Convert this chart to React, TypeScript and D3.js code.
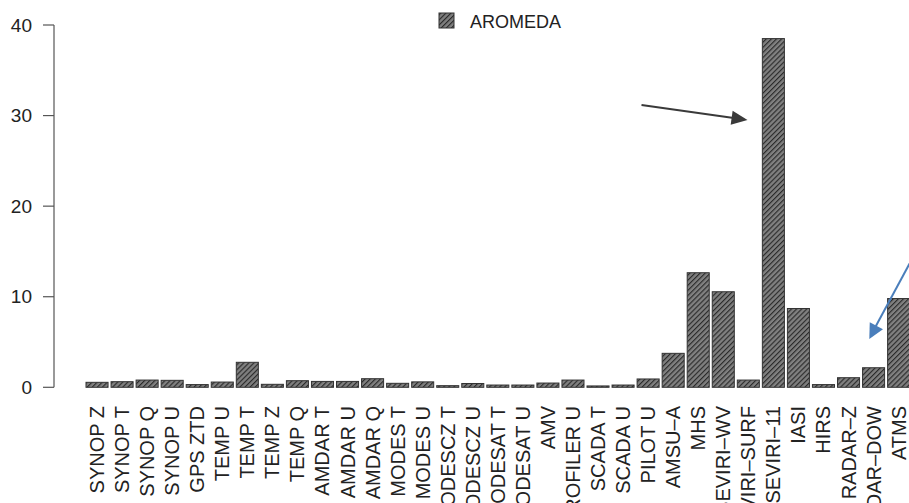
import React from "react";
import * as d3 from "d3";

const categories = [
  "SYNOP Z", "SYNOP T", "SYNOP Q", "SYNOP U", "GPS ZTD", "TEMP U", "TEMP T", "TEMP Z",
  "TEMP Q", "AMDAR T", "AMDAR U", "AMDAR Q", "MODES T", "MODES U", "MODESCZ T", "MODESCZ U",
  "MODESAT T", "MODESAT U", "AMV", "PROFILER U", "SCADA T", "SCADA U", "PILOT U", "AMSU–A",
  "MHS", "SEVIRI–WV", "SEVIRI–SURF", "SEVIRI–11", "IASI", "HIRS", "RADAR–Z", "RADAR–DOW", "ATMS",
];
const aromeda = [
  0.55, 0.62, 0.8, 0.77, 0.3, 0.58, 2.76, 0.33,
  0.73, 0.65, 0.65, 0.95, 0.44, 0.6, 0.18, 0.42,
  0.25, 0.25, 0.47, 0.8, 0.15, 0.25, 0.92, 3.75,
  12.65, 10.55, 0.8, 38.5, 8.7, 0.3, 1.06, 2.16, 9.8,
];
const yTicks = [0, 10, 20, 30, 40];
const seriesName = "AROMEDA";

const FONT = "'Liberation Sans', Arial, sans-serif";

export default function App() {
  const W = 909, H = 503;
  const x = d3.scaleBand<string>().domain(categories).range([84.5, 911.15]).paddingInner(0.12).paddingOuter(0.06);
  const y = d3.scaleLinear().domain([0, 40]).range([387.3, 25]);

  const arrowHead = (x1: number, y1: number, x2: number, y2: number, len: number, hw: number) => {
    const dx = x2 - x1, dy = y2 - y1;
    const L = Math.hypot(dx, dy);
    const ux = dx / L, uy = dy / L;
    const bx = x2 - ux * len, by = y2 - uy * len;
    const px = -uy, py = ux;
    return `M${x2},${y2}L${bx + px * hw},${by + py * hw}L${bx - px * hw},${by - py * hw}Z`;
  };

  const blk = { x1: 641.5, y1: 105, x2: 747.5, y2: 120 };
  const blu = { x1: 912, y1: 259, x2: 869.3, y2: 339 };

  return (
    <svg width={W} height={H} style={{ position: "absolute", left: 0, top: 0, background: "#fff" }}
      fontFamily={FONT}>
      <defs>
        <pattern id="hatch" patternUnits="userSpaceOnUse" width={3.6} height={3.6} patternTransform="rotate(45)">
          <rect width={3.6} height={3.6} fill="#808080" />
          <line x1={0} y1={0} x2={0} y2={3.6} stroke="#2a2a2a" strokeWidth={2.3} />
        </pattern>
      </defs>
      <rect width={W} height={H} fill="#fff" />

      {/* y axis */}
      <line x1={54} x2={54} y1={y(40)} y2={y(0)} stroke="#555" strokeWidth={1.2} />
      {yTicks.map((t) => (
        <g key={t}>
          <line x1={43} x2={54} y1={y(t)} y2={y(t)} stroke="#555" strokeWidth={1.2} />
          <text x={32} y={y(t)} dy="0.35em" textAnchor="end" fontSize={19} fill="#222">{t}</text>
        </g>
      ))}

      {/* bars */}
      {categories.map((c, i) => (
        <rect key={c} x={x(c)} y={y(aromeda[i])} width={x.bandwidth()} height={y(0) - y(aromeda[i])}
          fill="url(#hatch)" stroke="#333" strokeWidth={1} />
      ))}

      {/* category labels */}
      {categories.map((c) => {
        const cx = (x(c) as number) + x.bandwidth() / 2;
        return (
          <text key={c} transform={`translate(${cx},406) rotate(-90)`} dy="0.35em" textAnchor="end"
            fontSize={20} fill="#222">{c}</text>
        );
      })}

      {/* legend */}
      <rect x={439} y={13} width={15} height={15} fill="url(#hatch)" stroke="#333" strokeWidth={1} />
      <text x={470} y={28} fontSize={18} fill="#222">{seriesName}</text>

      {/* arrows */}
      <line x1={blk.x1} y1={blk.y1} x2={blk.x2 - 12} y2={blk.y2 - 1.7} stroke="#3a3a3a" strokeWidth={2} />
      <path d={arrowHead(blk.x1, blk.y1, blk.x2, blk.y2, 16, 7)} fill="#3a3a3a" />
      <line x1={blu.x1} y1={blu.y1} x2={blu.x2 + 5} y2={blu.y2 - 10} stroke="#4a7ebb" strokeWidth={2} />
      <path d={arrowHead(blu.x1, blu.y1, blu.x2, blu.y2, 15, 7.5)} fill="#4a7ebb" />
    </svg>
  );
}
